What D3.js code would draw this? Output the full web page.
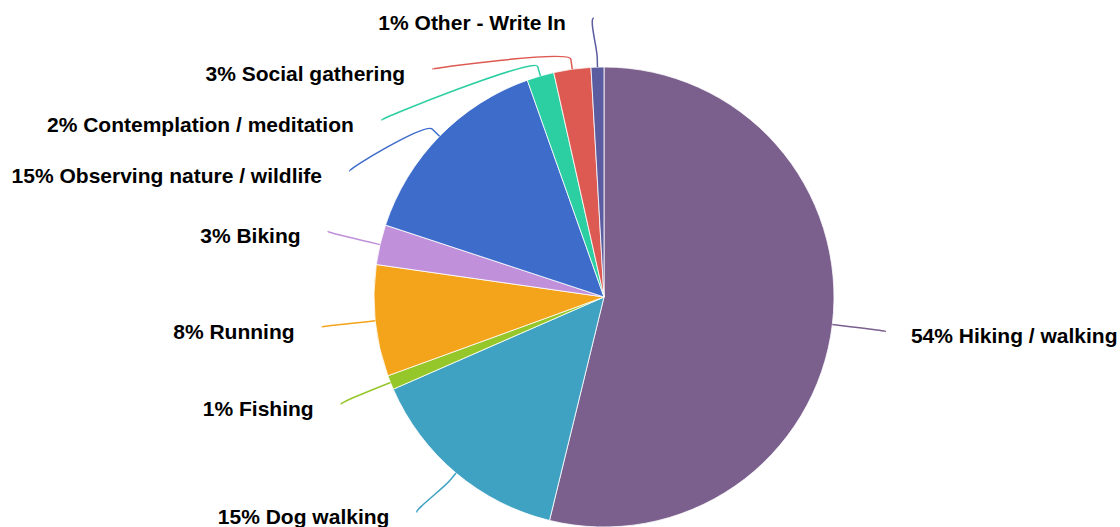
<!DOCTYPE html>
<html>
<head>
<meta charset="utf-8">
<script src="https://cdn.jsdelivr.net/npm/d3@7"></script>
<style>
  html, body { margin: 0; padding: 0; background: #fff; }
  svg { display: block; }
</style>
</head>
<body>
<svg id="pie" width="1120" height="527"></svg>
<script>
const categories = [
  'Hiking / walking', 'Dog walking', 'Fishing', 'Running', 'Biking',
  'Observing nature / wildlife', 'Contemplation / meditation',
  'Social gathering', 'Other - Write In'
];
const values = [53.7, 14.6, 1.0, 7.8, 2.8, 14.5, 1.9, 2.6, 0.9];
const colors = [
  '#7b608e', '#40a2c2', '#95c72a', '#f4a41a', '#c091da',
  '#3e6ccb', '#2ccfa2', '#dd5a52', '#5b5c9f'
];

const width = 1120;
const height = 527;
const cx = 604;
const cy = 297;
const radius = 230;
const labelRadius = 288;
const labelGap = 51;

const svg = d3.select('#pie');

const data = categories.map((c, i) => ({ name: c, value: values[i], color: colors[i] }));

const pie = d3.pie()
  .sort(null)
  .value(d => d.value);

const arcs = pie(data);

const arc = d3.arc()
  .innerRadius(0)
  .outerRadius(radius);

const chart = svg.append('g')
  .attr('transform', `translate(${cx}, ${cy})`);

chart.selectAll('path.slice')
  .data(arcs)
  .enter()
  .append('path')
  .attr('class', 'slice')
  .attr('d', arc)
  .style('fill', d => d.data.color)
  .style('stroke', '#ffffff')
  .style('stroke-width', 0.8)
  .style('stroke-linejoin', 'round');

// label layout: start on the outer circle, then push apart on each side
arcs.forEach((d) => {
  d.mid = (d.startAngle + d.endAngle) / 2;
  d.left = Math.sin(d.mid) < 0;
  d.ly = -labelRadius * Math.cos(d.mid);
});

const minY = 18 - cy;
const maxY = 512 - cy;

['left', 'right'].forEach((side) => {
  const group = arcs.filter(d => (side === 'left') === d.left)
    .sort((a, b) => a.ly - b.ly);
  let prev = -Infinity;
  group.forEach((d) => {
    d.ly = Math.max(d.ly, minY, prev + labelGap);
    prev = d.ly;
  });
  let next = Infinity;
  group.slice().reverse().forEach((d) => {
    d.ly = Math.min(d.ly, maxY, next - labelGap);
    next = d.ly;
  });
  group.forEach((d) => {
    const s = d.left ? -1 : 1;
    if (Math.abs(d.ly) > labelRadius * 0.95) {
      d.lx = labelRadius * Math.sin(d.mid) - 7;
    } else {
      d.lx = s * Math.sqrt(labelRadius * labelRadius - d.ly * d.ly);
    }
  });
});

// soft connectors from label to slice edge
chart.selectAll('path.connector')
  .data(arcs)
  .enter()
  .append('path')
  .attr('class', 'connector')
  .attr('d', (d) => {
    const s = d.left ? -1 : 1;
    const rx = radius * Math.sin(d.mid);
    const ry = -radius * Math.cos(d.mid);
    const bx = (radius + 10) * Math.sin(d.mid);
    const by = -(radius + 10) * Math.cos(d.mid);
    const p = d3.path();
    p.moveTo(d.lx - s * 5, d.ly);
    p.bezierCurveTo(d.lx, d.ly, 2 * bx - rx, 2 * by - ry, bx, by);
    p.lineTo(rx, ry);
    return p.toString();
  })
  .style('fill', 'none')
  .style('stroke', d => d.data.color)
  .style('stroke-width', 1.5);

chart.selectAll('text.label')
  .data(arcs)
  .enter()
  .append('text')
  .attr('class', 'label')
  .attr('x', d => d.lx + (d.left ? -23 : 21))
  .attr('y', d => d.ly + 12)
  .attr('text-anchor', d => d.left ? 'end' : 'start')
  .style('font-family', '"Liberation Sans", Arial, Helvetica, sans-serif')
  .style('font-weight', 'bold')
  .style('font-size', '21px')
  .style('fill', '#000')
  .text(d => `${Math.round(d.data.value)}% ${d.data.name}`);
</script>
</body>
</html>
